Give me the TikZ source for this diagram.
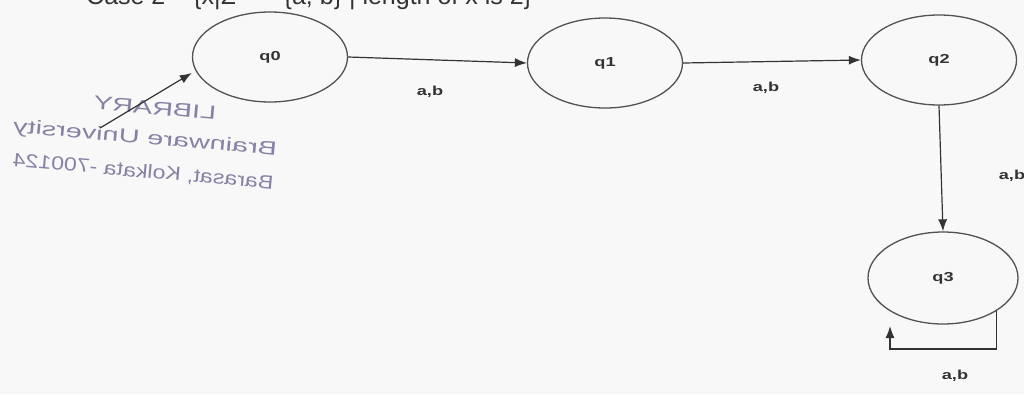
\documentclass[tikz,border=0pt]{standalone}
\usepackage{fontspec}
\usepackage{graphicx}
\setmainfont{Liberation Sans}
\usetikzlibrary{arrows.meta,shapes.geometric,calc}
\definecolor{ink}{HTML}{333333}
\definecolor{stampc}{RGB}{135,130,165}
\definecolor{paper}{HTML}{F8F8F8}
\newcommand{\lbl}[1]{\scalebox{1.4}[1]{\bfseries #1}}
\newcommand{\mir}[2]{\scalebox{-#1}[1]{#2}}
\begin{document}
\begin{tikzpicture}[x=1pt,y=-1pt,
  state/.style={ellipse, draw=ink!85, line width=1.3pt, minimum width=155pt, minimum height=90pt, inner sep=0pt, font=\fontsize{13}{13}\selectfont, text=ink},
  edgelbl/.style={font=\fontsize{13}{13}\selectfont, text=ink, inner sep=0pt},
  arr/.style={draw=ink, line width=1.2pt, -{Latex[length=12pt,width=9pt]}},
  stamp/.style={text=stampc, font=\fontsize{19}{19}\selectfont, rotate=-5, inner sep=0pt},
  ttl/.style={anchor=base west, inner sep=0pt, font=\fontsize{25}{25}\selectfont, text=ink}]
\fill[paper] (0,0) rectangle (1024,394);
\useasboundingbox (0,0) rectangle (1024,394);

% stamp bleed-through (mirrored)
\node[stamp] (s1) at (155,108) {\mir{1.52}{LIBRARY}};
\node[stamp] (s2) at (145,139) {\mir{1.52}{Brainware University}};
\node[stamp] (s3) at (143,172) {\mir{1.22}{Barasat, Kolkata -700124}};

% title (cut by top edge)
\node[ttl] (title) at (86,4) {Case 2 – \{x|Σ};
\node[ttl] (title2) at (262,4) {= \{a, b\} | length of x is 2\}};

% states
\node[state] (q0) at (270,57) {\lbl{q0}};
\node[state] (q1) at (605,63) {\lbl{q1}};
\node[state] (q2) at (939,60) {\lbl{q2}};
\node[state, minimum width=150pt, minimum height=92pt] (q3) at (943,278) {\lbl{q3}};

% transitions
\coordinate (init) at (100,128);
\draw[arr] (init) -- ($(q0.west)+(0,16)$);
\draw[arr] (q0.east) -- (q1.west);
\draw[arr] (q1.east) -- (q2.west);
\draw[arr] (q2.south) -- (q3.north);
\coordinate (loopend) at (890,326);
\draw[arr] (q3.south east) -- ++(0,38) -| (loopend);

% labels
\node[edgelbl] (l01) at (430,92) {\lbl{a,b}};
\node[edgelbl] (l12) at (766,88) {\lbl{a,b}};
\node[edgelbl] (l23) at (1012,176) {\lbl{a,b}};
\node[edgelbl] (l33) at (955,376) {\lbl{a,b}};
\end{tikzpicture}
\end{document}
